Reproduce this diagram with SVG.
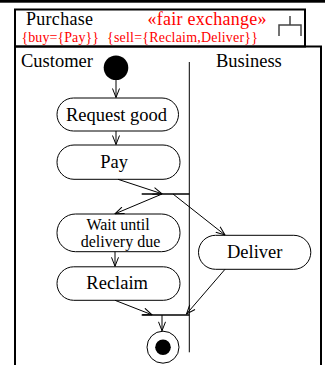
<svg xmlns="http://www.w3.org/2000/svg" width="325" height="365" viewBox="0 0 325 365">
<style>
text{font-family:"Liberation Serif","Times New Roman",serif;fill:#000}
.big{font-size:18.5px}
.hd{font-size:18px}
.mid{font-size:16px}
.red{fill:#f00}
.sm{font-size:14px}
.act{fill:#fff;stroke:#000;stroke-width:1}
.ln{fill:none;stroke:#000;stroke-width:1}
.bar{fill:none;stroke:#000;stroke-width:1.5}
.frame{fill:none;stroke:#000;stroke-width:2}
</style>
<defs>
<marker id="arr" viewBox="0 0 10 8" refX="9.5" refY="4" markerWidth="10" markerHeight="8" markerUnits="userSpaceOnUse" orient="auto">
<path d="M0.5,0.5 L9.5,4 L0.5,7.5" fill="none" stroke="#000" stroke-width="1"/>
</marker>
</defs>
<rect x="0" y="0" width="325" height="2.7" fill="#000"/>
<g id="header">
<rect class="frame" x="15" y="9.5" width="290" height="37" fill="#fff"/>
<text class="hd" x="26" y="25.3" textLength="67" lengthAdjust="spacing">Purchase</text>
<text class="hd red" x="147.5" y="25.3" textLength="119" lengthAdjust="spacing">«fair exchange»</text>
<text class="sm red" x="21.5" y="41.8" textLength="77.5" lengthAdjust="spacing">{buy={Pay}}</text>
<text class="sm red" x="107" y="41.8" textLength="151" lengthAdjust="spacing">{sell={Reclaim,Deliver}}</text>
<path d="M279,36 V25 H301 V36 M290,25 V16" fill="none" stroke="#444" stroke-width="1.5"/>
</g>
<g id="frame">
<path class="frame" d="M15,366 V46.5 H321 V366"/>
<text class="big" x="21" y="67.3">Customer</text>
<text class="big" x="216" y="67.3">Business</text>
<line class="ln" x1="189.3" y1="62" x2="189.3" y2="352.3"/>
</g>
<g id="initial">
<circle cx="116" cy="67.8" r="12.3" fill="#000"/>
</g>
<g id="request">
<rect class="act" x="57" y="98" width="121.5" height="33" rx="16.5"/>
<text class="big" x="116.5" y="120.5" text-anchor="middle">Request good</text>
</g>
<g id="pay">
<rect class="act" x="57" y="145" width="123" height="34.3" rx="17"/>
<text class="big" x="114" y="167.7" text-anchor="middle">Pay</text>
</g>
<g id="fork">
<line class="bar" x1="141.7" y1="194" x2="189.3" y2="194"/>
</g>
<g id="wait">
<rect class="act" x="57" y="214" width="123" height="37.7" rx="18.5"/>
<text class="mid" x="118" y="229.6" text-anchor="middle">Wait until</text>
<text class="mid" x="120.5" y="247.3" text-anchor="middle">delivery due</text>
</g>
<g id="deliver">
<rect class="act" x="198.5" y="235.3" width="112.3" height="34" rx="17"/>
<text class="big" x="254.7" y="258.3" text-anchor="middle">Deliver</text>
</g>
<g id="reclaim">
<rect class="act" x="57" y="266.8" width="123" height="33.5" rx="16.7"/>
<text class="big" x="117.2" y="288.5" text-anchor="middle">Reclaim</text>
</g>
<g id="join">
<line class="bar" x1="141.7" y1="315" x2="189.3" y2="315"/>
</g>
<g id="final">
<circle cx="163" cy="347.2" r="16" fill="#fff" stroke="#000" stroke-width="1"/>
<circle cx="163" cy="347.2" r="7.8" fill="#000"/>
</g>
<g id="connectors" class="ln">
<line class="ln" x1="116" y1="80" x2="116" y2="97.5" marker-end="url(#arr)"/>
<line class="ln" x1="116" y1="131" x2="116" y2="144.5" marker-end="url(#arr)"/>
<line class="ln" x1="118" y1="179.3" x2="162" y2="193.8" marker-end="url(#arr)"/>
<line class="ln" x1="162" y1="194" x2="115" y2="213.8" marker-end="url(#arr)"/>
<line class="ln" x1="173" y1="194" x2="225" y2="235" marker-end="url(#arr)"/>
<line class="ln" x1="115" y1="251.7" x2="115" y2="266.3" marker-end="url(#arr)"/>
<line class="ln" x1="115" y1="300.3" x2="152" y2="314.8" marker-end="url(#arr)"/>
<line class="ln" x1="225" y1="269.3" x2="186.5" y2="314" marker-end="url(#arr)"/>
<line class="ln" x1="162" y1="315" x2="162" y2="330.8" marker-end="url(#arr)"/>
</g>
</svg>
